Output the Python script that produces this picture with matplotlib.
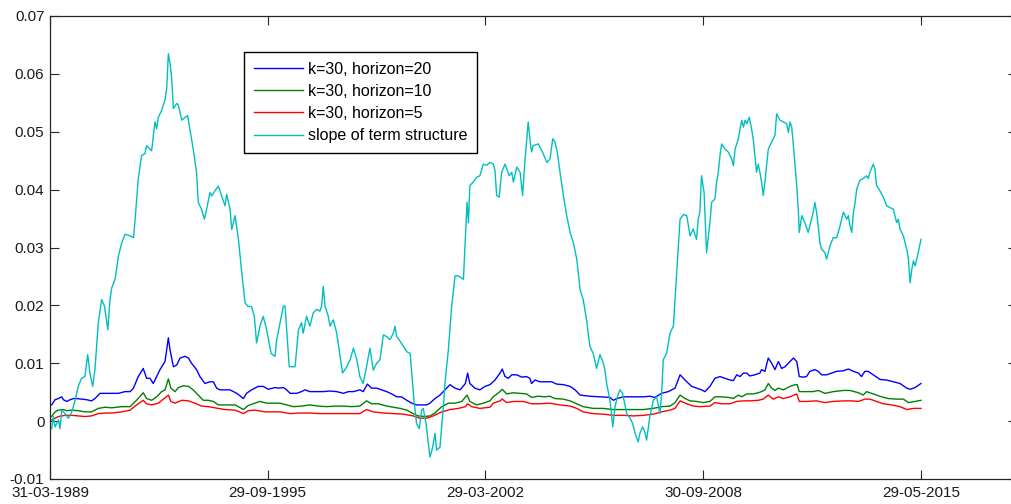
import matplotlib

matplotlib.use("Agg")
import matplotlib.pyplot as plt
import numpy as np

# Month index (0 = 31-03-1989) and value.
TICK_MONTHS = [0, 78, 156, 234, 312]
TICK_LABELS = ["31-03-1989", "29-09-1995", "29-03-2002", "30-09-2008", "29-05-2015"]

H20 = [
    (0.6, 0.0028), (1.8, 0.0037), (3.0, 0.0039), (4.2, 0.0042), (4.8, 0.0037), (6.0, 0.0034),
    (7.2, 0.0037), (8.4, 0.0039), (9.6, 0.0039), (11.3, 0.0038), (13.1, 0.0037), (14.9, 0.0035),
    (16.1, 0.0039), (17.9, 0.0048), (19.7, 0.0048), (22.1, 0.0048), (24.5, 0.0048), (26.9, 0.0051),
    (28.7, 0.0051), (29.9, 0.0057), (31.6, 0.0077), (33.4, 0.0091), (34.6, 0.0074), (35.8, 0.0074),
    (37.0, 0.0065), (38.2, 0.0077), (39.4, 0.0089), (41.2, 0.0103), (42.4, 0.0144), (43.0, 0.0123),
    (44.2, 0.0094), (45.4, 0.0097), (46.6, 0.0109), (48.4, 0.0112), (49.6, 0.0109), (50.7, 0.0100),
    (52.5, 0.0089), (53.7, 0.0077), (55.5, 0.0065), (57.3, 0.0068), (58.5, 0.0068), (59.7, 0.0057),
    (60.9, 0.0054), (63.3, 0.0054), (64.5, 0.0054), (66.9, 0.0048), (69.3, 0.0039), (70.4, 0.0048),
    (72.2, 0.0054), (74.6, 0.0060), (76.4, 0.0060), (78.2, 0.0055), (80.6, 0.0058), (81.8, 0.0057),
    (83.6, 0.0058), (84.8, 0.0054), (86.0, 0.0048), (88.4, 0.0048), (90.1, 0.0051), (91.3, 0.0054),
    (93.1, 0.0051), (95.5, 0.0051), (97.9, 0.0051), (100.3, 0.0052), (102.7, 0.0051), (105.1, 0.0048),
    (106.9, 0.0051), (108.7, 0.0051), (111.0, 0.0054), (112.2, 0.0051), (113.7, 0.0064), (115.2, 0.0057),
    (117.0, 0.0057), (118.8, 0.0054), (120.6, 0.0051), (122.4, 0.0047), (124.2, 0.0042), (125.9, 0.0042),
    (127.8, 0.0036), (129.6, 0.0031), (131.3, 0.0028), (133.1, 0.0028), (134.9, 0.0028), (136.1, 0.0031),
    (137.9, 0.0039), (139.7, 0.0045), (141.5, 0.0054), (143.3, 0.0063), (145.1, 0.0057), (146.9, 0.0054),
    (148.8, 0.0065), (149.6, 0.0083), (150.4, 0.0065), (152.2, 0.0057), (154.0, 0.0054), (155.8, 0.0060),
    (157.6, 0.0063), (159.4, 0.0071), (161.2, 0.0083), (162.0, 0.0090), (163.0, 0.0077), (164.2, 0.0074),
    (165.4, 0.0080), (167.2, 0.0080), (169.0, 0.0076), (170.7, 0.0077), (171.9, 0.0074), (172.5, 0.0065),
    (173.7, 0.0071), (175.5, 0.0068), (177.9, 0.0068), (179.7, 0.0068), (181.5, 0.0064), (183.9, 0.0063),
    (186.3, 0.0060), (188.1, 0.0054), (189.9, 0.0045), (193.4, 0.0043), (197.0, 0.0042), (200.6, 0.0041),
    (201.8, 0.0036), (203.0, 0.0039), (205.4, 0.0042), (208.9, 0.0042), (212.5, 0.0042), (214.9, 0.0043),
    (216.7, 0.0041), (219.1, 0.0048), (221.5, 0.0051), (223.9, 0.0057), (225.7, 0.0080), (226.9, 0.0074),
    (228.1, 0.0068), (229.9, 0.0060), (231.6, 0.0057), (233.4, 0.0054), (234.6, 0.0051), (236.4, 0.0060),
    (238.2, 0.0074), (240.0, 0.0077), (241.8, 0.0074), (243.6, 0.0071), (244.8, 0.0070), (246.0, 0.0080),
    (247.2, 0.0077), (248.4, 0.0083), (249.6, 0.0083), (250.7, 0.0078), (252.5, 0.0080), (254.3, 0.0083),
    (254.9, 0.0089), (256.1, 0.0086), (257.3, 0.0109), (258.5, 0.0100), (259.7, 0.0089), (260.9, 0.0103),
    (262.1, 0.0091), (263.3, 0.0094), (265.1, 0.0103), (266.3, 0.0109), (267.5, 0.0103), (268.4, 0.0077),
    (269.9, 0.0076), (271.0, 0.0077), (272.2, 0.0086), (274.0, 0.0089), (275.2, 0.0086), (276.4, 0.0080),
    (278.2, 0.0080), (280.0, 0.0083), (281.8, 0.0086), (284.2, 0.0087), (286.0, 0.0090), (287.8, 0.0086),
    (289.6, 0.0083), (290.7, 0.0077), (291.9, 0.0086), (293.1, 0.0086), (294.9, 0.0080), (297.3, 0.0072),
    (299.7, 0.0071), (302.1, 0.0068), (304.5, 0.0065), (306.9, 0.0057), (308.1, 0.0055), (309.9, 0.0058),
    (312.0, 0.0065),
]

H10 = [
    (0.6, 0.0008), (1.8, 0.0016), (3.0, 0.0019), (4.8, 0.0020), (6.0, 0.0018), (7.8, 0.0019),
    (10.1, 0.0018), (12.5, 0.0016), (14.9, 0.0016), (17.3, 0.0022), (19.7, 0.0024), (22.1, 0.0023),
    (25.7, 0.0025), (28.7, 0.0025), (31.0, 0.0036), (33.4, 0.0049), (34.6, 0.0039), (36.4, 0.0036),
    (38.2, 0.0042), (40.0, 0.0051), (41.2, 0.0054), (42.4, 0.0073), (43.3, 0.0057), (44.8, 0.0051),
    (46.0, 0.0058), (47.8, 0.0061), (49.6, 0.0060), (51.3, 0.0054), (53.1, 0.0045), (54.9, 0.0036),
    (56.7, 0.0036), (58.5, 0.0034), (60.3, 0.0028), (63.3, 0.0028), (66.3, 0.0028), (69.3, 0.0020),
    (71.0, 0.0027), (72.8, 0.0030), (75.2, 0.0034), (77.6, 0.0031), (80.6, 0.0031), (82.4, 0.0031),
    (84.8, 0.0028), (87.2, 0.0025), (90.1, 0.0026), (93.1, 0.0028), (96.1, 0.0026), (99.1, 0.0025),
    (102.1, 0.0026), (105.1, 0.0026), (108.1, 0.0025), (111.0, 0.0026), (113.4, 0.0035), (115.2, 0.0030),
    (117.6, 0.0030), (120.6, 0.0026), (123.0, 0.0024), (125.4, 0.0022), (127.8, 0.0019), (130.1, 0.0013),
    (131.9, 0.0009), (134.3, 0.0008), (136.1, 0.0009), (137.9, 0.0014), (140.3, 0.0025), (142.7, 0.0031),
    (145.1, 0.0031), (147.5, 0.0034), (149.4, 0.0045), (150.4, 0.0034), (152.8, 0.0028), (155.2, 0.0031),
    (157.6, 0.0035), (158.8, 0.0042), (161.2, 0.0051), (162.0, 0.0055), (163.6, 0.0047), (166.0, 0.0049),
    (168.4, 0.0048), (170.7, 0.0047), (172.5, 0.0041), (174.9, 0.0043), (177.3, 0.0042), (179.1, 0.0043),
    (180.9, 0.0039), (183.9, 0.0038), (186.3, 0.0035), (188.7, 0.0030), (191.0, 0.0025), (194.6, 0.0022),
    (198.2, 0.0022), (201.8, 0.0020), (205.4, 0.0020), (208.9, 0.0020), (212.5, 0.0020), (216.1, 0.0022),
    (219.1, 0.0025), (222.1, 0.0026), (223.9, 0.0032), (225.7, 0.0045), (227.5, 0.0039), (229.3, 0.0035),
    (231.6, 0.0034), (234.0, 0.0032), (236.4, 0.0034), (238.2, 0.0042), (240.6, 0.0042), (243.0, 0.0041),
    (244.8, 0.0039), (246.6, 0.0045), (247.8, 0.0042), (249.6, 0.0047), (251.9, 0.0047), (253.7, 0.0049),
    (254.9, 0.0051), (256.1, 0.0054), (257.3, 0.0065), (258.5, 0.0057), (259.7, 0.0053), (260.9, 0.0057),
    (262.7, 0.0054), (265.1, 0.0060), (266.9, 0.0063), (267.7, 0.0063), (268.4, 0.0051), (271.0, 0.0051),
    (273.4, 0.0051), (275.2, 0.0053), (277.6, 0.0048), (280.6, 0.0051), (284.2, 0.0053), (286.6, 0.0053),
    (289.6, 0.0049), (291.3, 0.0045), (292.5, 0.0051), (294.9, 0.0047), (297.9, 0.0042), (300.3, 0.0039),
    (303.3, 0.0038), (305.7, 0.0038), (307.5, 0.0032), (309.9, 0.0034), (312.0, 0.0036),
]

H5 = [
    (0.6, 0.0002), (3.0, 0.0008), (5.4, 0.0010), (7.8, 0.0010), (10.1, 0.0009), (12.5, 0.0008),
    (14.9, 0.0009), (17.3, 0.0013), (19.7, 0.0014), (22.1, 0.0014), (25.7, 0.0016), (28.7, 0.0019),
    (31.0, 0.0028), (33.4, 0.0036), (34.6, 0.0030), (36.4, 0.0028), (38.8, 0.0031), (40.6, 0.0038),
    (42.4, 0.0045), (43.3, 0.0034), (44.8, 0.0031), (47.2, 0.0036), (49.6, 0.0035), (51.9, 0.0031),
    (54.3, 0.0026), (56.7, 0.0025), (59.1, 0.0023), (62.7, 0.0020), (66.3, 0.0019), (69.3, 0.0013),
    (71.0, 0.0018), (73.4, 0.0019), (77.0, 0.0016), (80.6, 0.0016), (82.4, 0.0016), (86.0, 0.0013),
    (89.6, 0.0014), (93.1, 0.0014), (96.7, 0.0013), (100.3, 0.0013), (103.9, 0.0013), (107.5, 0.0013),
    (111.0, 0.0013), (113.4, 0.0020), (115.8, 0.0016), (119.4, 0.0014), (123.0, 0.0013), (126.6, 0.0012),
    (130.1, 0.0009), (132.5, 0.0005), (134.9, 0.0005), (137.3, 0.0009), (140.3, 0.0016), (143.3, 0.0020),
    (146.3, 0.0022), (148.8, 0.0025), (149.6, 0.0030), (151.0, 0.0025), (154.0, 0.0022), (157.6, 0.0024),
    (158.8, 0.0031), (161.2, 0.0035), (162.0, 0.0038), (163.6, 0.0032), (166.0, 0.0034), (169.6, 0.0034),
    (172.5, 0.0030), (175.5, 0.0030), (179.1, 0.0031), (182.7, 0.0028), (186.3, 0.0026), (188.7, 0.0022),
    (191.0, 0.0016), (194.6, 0.0013), (198.2, 0.0012), (201.8, 0.0010), (205.4, 0.0010), (208.9, 0.0009),
    (212.5, 0.0010), (216.1, 0.0012), (219.1, 0.0016), (222.1, 0.0019), (223.9, 0.0022), (225.7, 0.0035),
    (228.1, 0.0030), (230.4, 0.0026), (232.8, 0.0025), (236.4, 0.0026), (238.2, 0.0032), (240.6, 0.0030),
    (243.6, 0.0030), (246.0, 0.0034), (248.4, 0.0035), (250.7, 0.0035), (253.7, 0.0036), (255.5, 0.0038),
    (257.3, 0.0045), (259.1, 0.0038), (260.9, 0.0042), (262.7, 0.0039), (265.1, 0.0042), (267.5, 0.0047),
    (268.4, 0.0034), (271.0, 0.0034), (274.6, 0.0035), (277.6, 0.0032), (280.6, 0.0034), (284.2, 0.0035),
    (287.2, 0.0035), (289.6, 0.0034), (291.9, 0.0038), (293.7, 0.0038), (296.1, 0.0034), (298.5, 0.0030),
    (301.5, 0.0028), (304.5, 0.0025), (306.9, 0.0020), (309.3, 0.0022), (312.0, 0.0022),
]

SLOPE = [
    (0.6, -0.0013), (1.2, 0.0008), (1.8, -0.0010), (3.0, 0.0002), (3.6, -0.0013), (4.2, 0.0019),
    (5.4, 0.0013), (6.6, 0.0005), (7.8, 0.0016), (9.0, 0.0036), (10.1, 0.0060), (11.3, 0.0074),
    (12.5, 0.0077), (13.5, 0.0115), (14.3, 0.0083), (15.3, 0.0060), (16.1, 0.0089), (17.3, 0.0170),
    (18.5, 0.0210), (19.5, 0.0199), (20.7, 0.0158), (21.5, 0.0210), (22.1, 0.0230), (23.3, 0.0245),
    (24.5, 0.0285), (25.7, 0.0308), (26.9, 0.0323), (28.7, 0.0320), (29.9, 0.0317), (30.4, 0.0343),
    (31.6, 0.0418), (32.8, 0.0459), (34.0, 0.0462), (34.6, 0.0476), (36.4, 0.0467), (37.6, 0.0517),
    (38.2, 0.0505), (38.8, 0.0525), (40.0, 0.0537), (41.2, 0.0555), (41.8, 0.0575), (42.4, 0.0635),
    (43.0, 0.0618), (43.6, 0.0592), (44.2, 0.0540), (45.4, 0.0549), (46.0, 0.0546), (47.2, 0.0520),
    (48.4, 0.0525), (49.3, 0.0528), (50.1, 0.0505), (51.3, 0.0470), (52.5, 0.0430), (53.1, 0.0378),
    (54.3, 0.0366), (55.3, 0.0349), (56.1, 0.0366), (57.3, 0.0395), (57.9, 0.0389), (59.1, 0.0398),
    (60.3, 0.0406), (61.5, 0.0389), (62.7, 0.0372), (63.3, 0.0392), (64.5, 0.0366), (65.1, 0.0331),
    (66.3, 0.0355), (67.5, 0.0314), (68.7, 0.0256), (69.9, 0.0204), (71.0, 0.0198), (72.2, 0.0198),
    (73.2, 0.0181), (74.0, 0.0135), (75.2, 0.0164), (76.4, 0.0181), (77.6, 0.0158), (79.2, 0.0117),
    (80.6, 0.0112), (81.2, 0.0140), (82.4, 0.0170), (83.6, 0.0199), (84.2, 0.0199), (84.8, 0.0158),
    (85.7, 0.0094), (86.6, 0.0094), (87.8, 0.0094), (89.0, 0.0158), (90.1, 0.0170), (90.7, 0.0152),
    (91.9, 0.0181), (93.1, 0.0164), (94.3, 0.0187), (95.5, 0.0193), (96.7, 0.0190), (97.3, 0.0199),
    (97.9, 0.0233), (98.5, 0.0199), (99.7, 0.0181), (100.3, 0.0164), (101.5, 0.0175), (102.7, 0.0152),
    (103.9, 0.0112), (104.8, 0.0083), (106.3, 0.0094), (107.5, 0.0106), (108.7, 0.0126), (109.9, 0.0106),
    (111.0, 0.0077), (112.2, 0.0065), (113.4, 0.0094), (114.6, 0.0126), (115.8, 0.0088), (117.0, 0.0100),
    (118.2, 0.0106), (119.4, 0.0149), (120.6, 0.0146), (121.8, 0.0141), (123.0, 0.0152), (123.6, 0.0164),
    (124.2, 0.0146), (125.4, 0.0138), (126.6, 0.0129), (127.8, 0.0120), (129.0, 0.0117), (129.6, 0.0083),
    (130.4, 0.0036), (131.3, -0.0004), (132.3, -0.0013), (133.1, 0.0019), (133.7, 0.0022), (134.7, -0.0004),
    (136.1, -0.0062), (137.1, -0.0045), (137.9, -0.0021), (138.5, -0.0050), (139.7, -0.0045), (140.9, 0.0025),
    (141.5, 0.0066), (142.7, 0.0123), (143.9, 0.0199), (145.1, 0.0251), (146.3, 0.0251), (148.1, 0.0245),
    (149.4, 0.0378), (149.9, 0.0343), (150.4, 0.0407), (151.6, 0.0413), (152.8, 0.0421), (154.0, 0.0424),
    (155.2, 0.0444), (156.4, 0.0442), (157.6, 0.0447), (158.8, 0.0444), (159.4, 0.0433), (160.0, 0.0390),
    (160.9, 0.0387), (161.8, 0.0430), (163.0, 0.0444), (163.6, 0.0436), (164.5, 0.0424), (165.4, 0.0430),
    (166.0, 0.0413), (167.2, 0.0439), (168.4, 0.0430), (169.3, 0.0390), (170.1, 0.0447), (171.3, 0.0517),
    (171.9, 0.0488), (172.5, 0.0465), (173.1, 0.0476), (174.9, 0.0479), (176.4, 0.0465), (178.0, 0.0447),
    (179.1, 0.0453), (180.1, 0.0488), (180.9, 0.0482), (181.7, 0.0465), (182.7, 0.0430), (183.9, 0.0390),
    (185.1, 0.0355), (186.3, 0.0326), (187.5, 0.0308), (188.7, 0.0280), (189.9, 0.0227), (191.0, 0.0210),
    (192.2, 0.0175), (193.4, 0.0129), (194.6, 0.0117), (195.8, 0.0091), (197.0, 0.0115), (198.2, 0.0100),
    (198.8, 0.0088), (199.4, 0.0065), (200.6, 0.0036), (201.6, -0.0010), (202.4, 0.0025), (203.6, 0.0048),
    (204.2, 0.0054), (205.1, 0.0048), (206.6, 0.0013), (207.8, 0.0005), (208.7, -0.0004), (209.6, -0.0021),
    (210.7, -0.0036), (211.3, -0.0021), (212.3, -0.0010), (213.1, -0.0019), (213.7, -0.0033), (214.9, 0.0008),
    (216.1, 0.0036), (217.3, 0.0042), (218.5, 0.0013), (219.1, 0.0048), (219.7, 0.0106), (220.9, 0.0117),
    (222.1, 0.0152), (223.3, 0.0164), (224.5, 0.0256), (225.7, 0.0349), (226.9, 0.0357), (228.1, 0.0355),
    (229.3, 0.0320), (230.4, 0.0332), (231.6, 0.0314), (232.2, 0.0349), (232.8, 0.0361), (233.4, 0.0424),
    (234.3, 0.0395), (235.2, 0.0291), (236.4, 0.0343), (237.0, 0.0378), (238.2, 0.0384), (238.8, 0.0413),
    (239.4, 0.0430), (240.0, 0.0459), (240.6, 0.0479), (241.8, 0.0470), (243.0, 0.0465), (244.2, 0.0453),
    (244.8, 0.0441), (245.4, 0.0470), (246.6, 0.0488), (247.2, 0.0505), (247.8, 0.0520), (248.4, 0.0508),
    (249.0, 0.0520), (249.6, 0.0514), (250.5, 0.0525), (251.3, 0.0505), (251.9, 0.0488), (252.5, 0.0459),
    (253.1, 0.0430), (253.7, 0.0444), (254.3, 0.0430), (254.9, 0.0413), (255.5, 0.0390), (256.1, 0.0413),
    (257.3, 0.0470), (258.5, 0.0482), (259.7, 0.0494), (260.3, 0.0531), (261.5, 0.0520), (262.7, 0.0517),
    (263.9, 0.0514), (264.5, 0.0499), (265.1, 0.0517), (265.7, 0.0508), (266.3, 0.0476), (267.5, 0.0407),
    (268.1, 0.0361), (268.4, 0.0326), (269.3, 0.0355), (270.4, 0.0343), (271.6, 0.0326), (272.8, 0.0349),
    (273.4, 0.0361), (274.0, 0.0378), (274.6, 0.0361), (275.2, 0.0337), (275.8, 0.0308), (276.4, 0.0297),
    (277.6, 0.0291), (278.2, 0.0280), (279.4, 0.0303), (280.6, 0.0317), (281.8, 0.0317), (283.0, 0.0337),
    (284.2, 0.0361), (285.4, 0.0349), (286.0, 0.0355), (286.6, 0.0337), (287.2, 0.0326), (287.8, 0.0361),
    (288.4, 0.0378), (289.0, 0.0401), (290.1, 0.0416), (291.3, 0.0419), (292.5, 0.0424), (293.1, 0.0419),
    (293.7, 0.0430), (294.9, 0.0444), (295.5, 0.0436), (296.1, 0.0407), (297.3, 0.0398), (298.5, 0.0387),
    (299.7, 0.0372), (300.9, 0.0369), (302.1, 0.0366), (303.3, 0.0343), (303.9, 0.0349), (304.5, 0.0332),
    (305.7, 0.0320), (306.9, 0.0297), (307.5, 0.0280), (308.1, 0.0239), (308.7, 0.0262), (309.3, 0.0277),
    (309.9, 0.0268), (311.0, 0.0291), (312.0, 0.0314),
]

SERIES = [
    (H20, "#0000ff", "k=30, horizon=20"),
    (H10, "#008000", "k=30, horizon=10"),
    (H5, "#ff0000", "k=30, horizon=5"),
    (SLOPE, "#00bfbf", "slope of term structure"),
]

plt.rcParams["font.family"] = ["Liberation Sans", "DejaVu Sans"]
plt.rcParams["font.size"] = 11

fig = plt.figure(figsize=(10.11, 5.04), dpi=100)
# matlab-style box; the right edge of the axes falls just outside the saved image
ax = fig.add_axes([50 / 1011, 25 / 504, 967 / 1011, 463 / 504])

for data, color, label in SERIES:
    arr = np.array(data)
    ax.plot(arr[:, 0], arr[:, 1], color=color, lw=1.0, label=label)

ax.set_xlim(0, 346.4)
ax.set_ylim(-0.01, 0.07)
ax.set_xticks(TICK_MONTHS)
ax.set_xticklabels(TICK_LABELS)
yt = np.round(np.arange(-0.01, 0.0701, 0.01), 2)
ax.set_yticks(yt)
ax.set_yticklabels([f"{v:g}" for v in yt])

ax.tick_params(direction="in", length=6.5, width=0.8, top=True, right=True,
               colors="#262626", labelcolor="#1a1a1a", pad=4)
ax.tick_params(axis="x", pad=5)
for s in ax.spines.values():
    s.set_color("#262626")
    s.set_linewidth(0.9)

leg = ax.legend(loc="upper left", bbox_to_anchor=(0.2006, 0.9222), borderaxespad=0,
                fancybox=False, edgecolor="black", framealpha=1, fontsize=11.5,
                handlelength=3.1, handletextpad=0.3, borderpad=0.6, labelspacing=0.45)
leg.get_frame().set_linewidth(1.0)

fig.savefig("out.png", dpi=100)
